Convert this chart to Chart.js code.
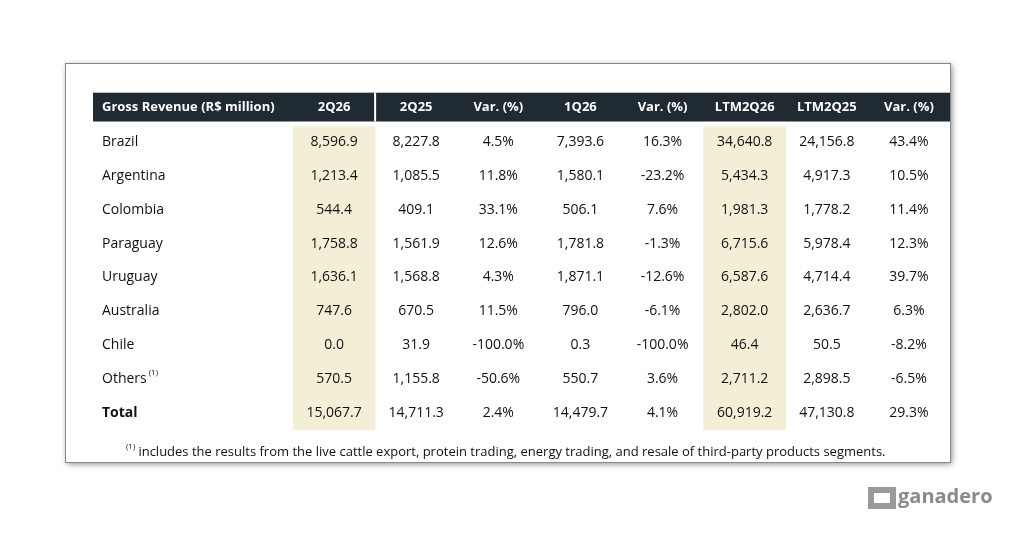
<!DOCTYPE html>
<html><head><meta charset="utf-8">
<script src="https://cdn.jsdelivr.net/npm/chart.js"></script>
<style>html,body{margin:0;padding:0;background:#fff}canvas{display:block}</style>
</head><body>
<canvas id="c" width="1024" height="535"></canvas>
<script>
const headerLabel = "Gross Revenue (R$ million)";
const columns = ["2Q26","2Q25","Var. (%)","1Q26","Var. (%)","LTM2Q26","LTM2Q25","Var. (%)"];
const rowsLabels = ["Brazil","Argentina","Colombia","Paraguay","Uruguay","Australia","Chile","Others","Total"];
const q2_26 = ["8,596.9","1,213.4","544.4","1,758.8","1,636.1","747.6","0.0","570.5","15,067.7"];
const q2_25 = ["8,227.8","1,085.5","409.1","1,561.9","1,568.8","670.5","31.9","1,155.8","14,711.3"];
const var1 = ["4.5%","11.8%","33.1%","12.6%","4.3%","11.5%","-100.0%","-50.6%","2.4%"];
const q1_26 = ["7,393.6","1,580.1","506.1","1,781.8","1,871.1","796.0","0.3","550.7","14,479.7"];
const var2 = ["16.3%","-23.2%","7.6%","-1.3%","-12.6%","-6.1%","-100.0%","3.6%","4.1%"];
const ltm26 = ["34,640.8","5,434.3","1,981.3","6,715.6","6,587.6","2,802.0","46.4","2,711.2","60,919.2"];
const ltm25 = ["24,156.8","4,917.3","1,778.2","5,978.4","4,714.4","2,636.7","50.5","2,898.5","47,130.8"];
const var3 = ["43.4%","10.5%","11.4%","12.3%","39.7%","6.3%","-8.2%","-6.5%","29.3%"];
const highlighted = ["2Q26","LTM2Q26"];
const footnote = " includes the results from the live cattle export, protein trading, energy trading, and resale of third-party products segments.";
const table = [q2_26,q2_25,var1,q1_26,var2,ltm26,ltm25,var3];

const FONT = "'Open Sans', sans-serif";
const tablePlugin = {
  id:'tbl',
  beforeDraw(ch){
    const c=ch.ctx, x=ch.scales.x, y=ch.scales.y, a=ch.chartArea;
    c.save();
    c.shadowColor='rgba(0,0,0,0.45)'; c.shadowBlur=6; c.shadowOffsetX=2; c.shadowOffsetY=2;
    c.fillStyle='#fff'; c.fillRect(65,63,885,399);
    c.shadowColor='transparent';
    c.strokeStyle='#888'; c.lineWidth=1; c.strokeRect(65.5,63.5,885,399);
    const top=y.getPixelForValue(-0.45), bot=y.getPixelForValue(0.4);
    c.fillStyle='#1f2a33'; c.fillRect(93,top,a.right-93,bot-top);
    c.fillStyle='#fff';
    const w=x.getPixelForValue(1)-x.getPixelForValue(0);
    c.fillRect(x.getPixelForValue(0)+w/2-1,top,2,bot-top);
    c.restore();
  },
  afterDatasetsDraw(ch){
    const c=ch.ctx, x=ch.scales.x, y=ch.scales.y;
    c.save(); c.textBaseline='middle';
    const hy=y.getPixelForValue(0)-1;
    c.font="bold 13px "+FONT; c.fillStyle='#fff'; c.textAlign='left';
    c.fillText(headerLabel,102,hy);
    c.textAlign='center';
    columns.forEach((h,i)=>c.fillText(h,x.getPixelForValue(i),hy));
    rowsLabels.forEach((r,ri)=>{
      const py=y.getPixelForValue(ri+1);
      const bold=r==="Total";
      c.font=(bold?"bold ":"")+"14px "+FONT; c.fillStyle='#111';
      c.textAlign='left'; c.fillText(r,102,py);
      if(r==="Others"){const wd=c.measureText(r).width;c.font="8px "+FONT;c.fillText("(1)",104+wd,py-6);}
      c.font="14px "+FONT;
      c.textAlign='center';
      table.forEach((col,ci)=>c.fillText(col[ri],x.getPixelForValue(ci),py));
    });
    c.textAlign='left'; c.fillStyle='#111';
    c.font="8px "+FONT; c.fillText("(1)",126,447);
    c.font="13px "+FONT; c.fillText(footnote,135,452);
    c.fillStyle='#9a9a9a'; c.fillRect(868,487,28,22);
    c.fillStyle='#fff'; c.fillRect(874,493,16,10);
    c.fillStyle='#8a8a8a'; c.font="bold 20px "+FONT; c.fillText("ganadero",898,497);
    c.restore();
  }
};

new Chart(document.getElementById('c'),{
  type:'bar',
  data:{labels:columns,datasets:[{
    data:columns.map(h=>highlighted.includes(h)?[0.55,9.5]:null),
    backgroundColor:'#f3eed6',barPercentage:1,categoryPercentage:1
  }]},
  options:{
    responsive:false,animation:false,devicePixelRatio:1,
    layout:{padding:{left:293,top:91,right:74,bottom:105}},
    plugins:{legend:{display:false},tooltip:{enabled:false}},
    scales:{
      x:{display:false},
      y:{type:'linear',display:false,reverse:true,min:-0.5,max:9.5}
    }
  },
  plugins:[tablePlugin]
});
</script>
</body></html>
